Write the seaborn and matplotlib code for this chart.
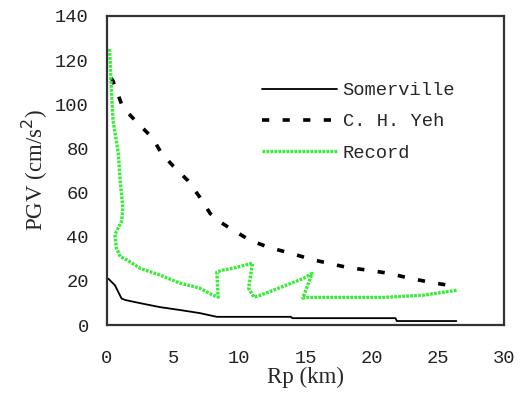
import matplotlib
matplotlib.use("Agg")
import matplotlib.pyplot as plt
import seaborn as sns
import pandas as pd

# ---- data ----
somer_x = [0.1, 0.6, 1.1, 1.4, 2.5, 4.0, 5.5, 7.0, 8.3, 13.9, 14.0, 21.8, 21.9, 26.4]
somer_y = [21.0, 18.0, 12.0, 11.3, 9.9, 8.1, 6.8, 5.4, 3.7, 3.7, 3.1, 3.1, 1.8, 1.8]

yeh_x = [0.3, 0.45, 1.2, 2.4, 3.4, 4.1, 5.0, 6.1, 7.0, 7.8, 8.6, 9.3, 10.8, 12.3,
         13.9, 15.4, 16.7, 18.3, 19.8, 21.3, 22.8, 24.3, 26.1, 26.5]
yeh_y = [112.0, 110.6, 98.5, 91.0, 85.0, 78.0, 72.0, 65.5, 58.0, 50.5, 46.5, 43.8,
         38.4, 35.0, 32.5, 29.8, 28.0, 25.9, 24.8, 23.4, 21.3, 19.5, 17.7, 17.5]

rec_x = [0.2, 0.3, 0.45, 0.85, 1.0, 1.2, 1.1, 0.6, 0.7, 1.0, 1.5, 2.5, 4.0, 5.5,
         7.0, 8.0, 8.4, 8.3, 8.7, 9.5, 11.0, 10.7, 11.1, 11.6, 13.1, 14.8, 15.5,
         14.8, 15.2, 20.9, 23.9, 26.5]
rec_y = [125.0, 110.0, 93.0, 78.0, 65.0, 53.0, 47.0, 41.0, 35.0, 31.0, 29.5, 25.7,
         22.6, 19.0, 16.7, 13.5, 12.6, 24.0, 24.8, 25.7, 28.0, 16.7, 12.6, 13.5,
         17.0, 21.0, 23.4, 12.2, 12.5, 12.5, 13.5, 15.8]

x_ticks = [0, 5, 10, 15, 20, 25, 30]
y_ticks = [0, 20, 40, 60, 80, 100, 120, 140]
labels = ["Somerville", "C. H. Yeh", "Record"]

sns.set_style("white")
plt.rcParams['font.family'] = ['Liberation Mono', 'DejaVu Sans']

fig = plt.figure(figsize=(5.2, 3.96), dpi=100)
ax = fig.add_axes([107/520, 1-325/396, (504-107)/520, (325-16)/396])

sns.lineplot(x=somer_x, y=somer_y, ax=ax, sort=False, estimator=None,
             color="black", linewidth=1.3, label=labels[0])
sns.lineplot(x=yeh_x, y=yeh_y, ax=ax, sort=False, estimator=None,
             color="black", linewidth=2.6, label=labels[1])
ax.lines[-1].set_linestyle((0, (2, 3.7)))
sns.lineplot(x=rec_x, y=rec_y, ax=ax, sort=False, estimator=None,
             color="#33ee33", linewidth=2.4, label=labels[2])
ax.lines[-1].set_linestyle((0, (0.8, 0.4)))

ax.set_xlim(0, 30)
ax.set_ylim(0, 140)
ax.set_xticks(x_ticks)
ax.set_yticks(y_ticks)
ax.tick_params(axis='both', direction='in', length=4, width=1.2, colors='#222222',
               labelsize=13.5, labelcolor='#222222')
ax.tick_params(axis='y', pad=13)
ax.tick_params(axis='x', pad=18)
for s in ax.spines.values():
    s.set_visible(True)
    s.set_color('#333333')
    s.set_linewidth(1.6)

ax.set_xlabel("Rp (km)", family=['Liberation Serif'], fontsize=16.5, labelpad=0)
ax.set_ylabel("PGV (cm/s$^2$)", family=['Liberation Serif'], fontsize=16.5, labelpad=4)

leg = ax.legend(loc='upper left', bbox_to_anchor=(262/520, 1-82/396),
                bbox_transform=fig.transFigure, frameon=False, fontsize=13.5,
                handlelength=4, handletextpad=0.3, labelspacing=0.75,
                borderpad=0, borderaxespad=0)

fig.savefig("out.png", dpi=100)
